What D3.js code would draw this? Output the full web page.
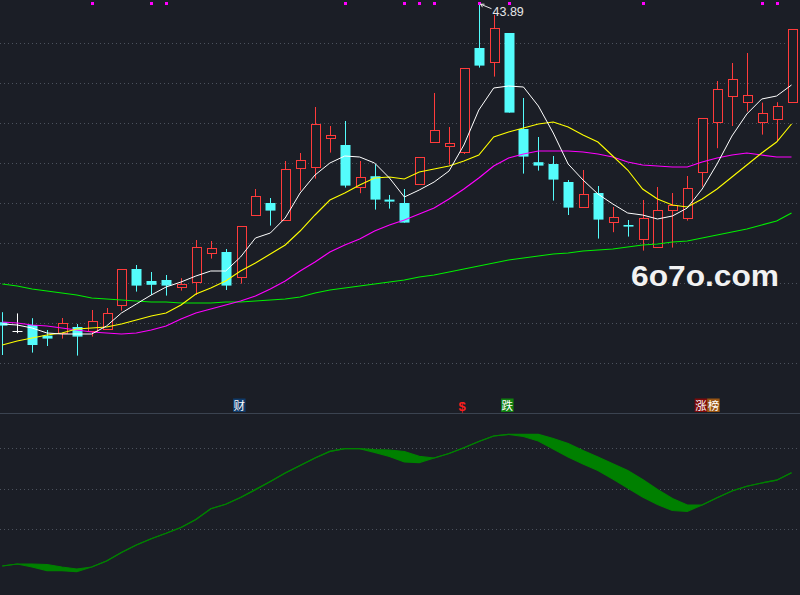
<!DOCTYPE html>
<html><head><meta charset="utf-8">
<script src="https://cdn.jsdelivr.net/npm/d3@7"></script>
<style>html,body{margin:0;padding:0;background:#1b1e26;overflow:hidden}svg{display:block}</style>
</head><body><svg id="c" width="800" height="595"></svg>
<script>
// ---- data ----
const opens  = [27.94,27.50,27.80,27.27,27.42,27.70,27.49,27.59,28.78,30.60,30.00,30.05,29.69,29.94,31.39,31.45,30.22,33.32,33.90,33.04,35.63,35.69,37.14,36.80,34.69,35.24,34.07,33.90,34.84,36.94,36.74,36.44,41.65,40.94,42.40,37.60,35.94,35.85,34.95,33.68,34.40,32.94,32.80,32.12,31.72,33.54,33.14,35.44,37.94,39.24,38.94,37.94,38.09,38.94];
const highs  = [28.44,28.38,28.14,27.55,28.15,27.85,28.55,28.65,30.58,30.80,30.45,30.30,30.14,32.05,32.00,31.60,32.74,34.60,34.15,36.00,36.40,38.70,37.75,38.00,36.00,35.84,34.30,34.60,36.19,39.40,37.70,40.64,43.89,43.30,42.40,39.15,37.20,36.25,35.05,35.55,34.75,33.70,33.05,34.05,34.70,34.40,35.25,38.14,40.00,40.90,41.40,38.92,38.94,42.58];
const lows   = [26.30,27.39,26.42,26.75,27.12,26.27,27.22,27.59,28.52,29.47,29.30,29.27,29.52,29.30,31.12,29.55,29.87,33.25,32.77,33.04,34.52,35.12,36.42,34.67,34.39,33.57,33.62,32.92,34.84,36.94,35.82,36.35,40.67,40.22,38.42,35.37,35.52,34.02,33.30,33.68,32.12,32.44,32.22,31.52,31.72,31.67,33.02,34.72,36.64,37.75,38.47,37.32,36.99,38.94];
const closes = [27.77,27.50,26.80,27.12,27.88,27.22,27.99,28.39,30.58,29.77,29.81,29.77,29.84,31.69,31.64,29.77,32.74,34.24,33.52,35.58,36.03,37.84,37.30,34.77,35.19,34.07,33.97,32.92,36.19,37.54,36.89,40.64,40.77,42.64,38.42,36.22,35.77,35.07,33.67,34.34,33.07,33.19,32.72,33.14,33.54,33.82,34.64,38.14,39.59,40.09,39.29,38.39,38.74,42.58];

const ma5  = [27.85,27.80,27.65,27.40,27.35,27.35,27.35,27.75,28.40,28.85,29.30,29.70,29.95,30.25,30.50,30.50,31.20,32.15,32.40,33.15,34.40,35.30,35.90,36.25,36.20,35.90,35.15,34.20,34.55,34.95,35.50,36.80,38.55,39.65,39.75,39.70,38.75,37.40,35.85,35.05,34.35,33.85,33.40,33.30,33.10,33.25,33.65,34.60,35.85,37.25,38.35,39.10,39.25,39.80];
const ma10 = [26.80,27.00,27.15,27.30,27.40,27.60,27.65,27.70,27.85,28.05,28.25,28.40,28.80,29.35,29.65,30.00,30.50,30.90,31.35,31.80,32.50,33.30,34.05,34.40,34.80,35.15,35.20,35.10,35.45,35.60,35.75,36.00,36.30,37.20,37.45,37.65,37.85,37.95,37.70,37.30,36.95,36.25,35.55,34.60,34.10,33.80,33.70,34.10,34.60,35.20,35.80,36.40,36.95,37.85];
const ma20 = [27.95,27.90,27.80,27.75,27.65,27.55,27.45,27.40,27.35,27.40,27.55,27.75,28.10,28.40,28.60,28.80,29.00,29.25,29.60,30.00,30.50,30.95,31.45,31.80,32.10,32.50,32.80,33.05,33.35,33.65,34.10,34.60,35.15,35.75,36.15,36.35,36.50,36.50,36.50,36.45,36.35,36.20,35.95,35.80,35.75,35.70,35.70,35.95,36.15,36.30,36.40,36.30,36.20,36.20];
const ma60 = [29.85,29.75,29.60,29.50,29.40,29.30,29.15,29.10,29.05,29.00,28.95,28.95,28.90,28.90,28.90,28.95,28.95,29.00,29.05,29.10,29.20,29.40,29.55,29.65,29.75,29.85,29.95,30.05,30.20,30.30,30.45,30.60,30.75,30.90,31.05,31.15,31.25,31.35,31.40,31.50,31.55,31.60,31.70,31.80,31.85,31.95,32.00,32.15,32.30,32.45,32.60,32.80,33.00,33.40];

const indSlow = [1.88,2.86,2.86,2.62,1.38,0.40,1.38,4.35,8.54,12.25,15.36,18.02,20.89,24.84,30.17,32.35,35.70,39.60,43.65,47.80,51.51,55.21,58.47,59.85,59.80,59.31,59.16,58.42,56.00,55.21,57.43,60.25,63.36,66.07,66.91,66.91,66.91,64.84,62.37,58.91,55.70,52.35,49.04,44.59,39.65,35.21,32.00,32.00,35.60,38.91,41.28,42.86,44.25,47.90];
const indFast = [1.88,2.86,1.38,-0.44,-0.44,-0.94,1.38,4.35,8.54,12.25,15.36,18.02,20.89,24.84,30.17,32.35,35.70,39.60,43.65,47.80,51.51,55.21,58.47,59.85,59.80,58.02,55.95,53.28,52.94,55.21,57.43,60.25,63.36,66.07,66.91,65.83,63.60,59.65,55.70,52.25,49.04,44.84,40.40,35.95,32.25,29.28,28.89,32.00,35.60,38.91,41.28,42.86,44.25,47.90];

const priceGrid = [41.9,39.9,37.9,35.9,33.9,31.9,29.9,27.9,25.9];
const indGrid = [60,40,20];
const markerIdx = [6,10,11,23,27,28,29,32,34,43,51,52];
const eventIdx = [16,31,34,47];
const eventText = ['财','$','跌','涨榜'];
const watermark = '6o7o.com';

// ---- styles ----
const BG = '#1b1e26', RED = '#ff3b3b', CYAN = '#54fcfc';
const charBg = {'财':'#0f3b6b','跌':'#10800f','涨':'#7e0a0a','榜':'#9a5512'};

const svg = d3.select('#c');
svg.append('rect').attr('width',800).attr('height',595).attr('fill',BG);

const n = closes.length;
const x = d3.scaleLinear().domain([0, n-1]).range([2.3, 791.5]);
const yP = d3.scaleLinear().domain([25.9, 41.9]).range([363, 43]);
const yI = d3.scaleLinear().domain([20, 60]).range([529.3, 448.3]);

// grid
const grid = svg.append('g').attr('stroke','#4c525d').attr('stroke-dasharray','1,3');
priceGrid.forEach(v => { const yy = Math.round(yP(v)) + 0.5;
  grid.append('line').attr('x1',0).attr('x2',800).attr('y1',yy).attr('y2',yy); });
indGrid.forEach(v => { const yy = Math.round(yI(v)) + 0.5;
  grid.append('line').attr('x1',0).attr('x2',800).attr('y1',yy).attr('y2',yy); });

// separator
svg.append('line').attr('x1',0).attr('x2',800).attr('y1',413.5).attr('y2',413.5)
  .attr('stroke','#3b4350').attr('stroke-width',1);

// watermark
svg.append('text').attr('x',631).attr('y',286).text(watermark)
  .attr('font-family','Liberation Sans, Arial, sans-serif').attr('font-weight','bold')
  .attr('font-size',30).attr('fill','#f2f2f2')
  .attr('textLength',148).attr('lengthAdjust','spacingAndGlyphs');

// candles
const cg = svg.append('g');
for (let i = 0; i < n; i++) {
  const o = opens[i], c = closes[i], h = highs[i], l = lows[i];
  const col = c > o ? RED : (c < o ? CYAN : '#ffffff');
  const cx = Math.round(x(i));
  cg.append('line').attr('x1',cx+0.5).attr('x2',cx+0.5)
    .attr('y1',yP(h)).attr('y2',yP(l)).attr('stroke',col).attr('stroke-width',1);
  if (c > o) {
    const top = Math.round(yP(c)), bot = Math.round(yP(o));
    cg.append('rect').attr('x',cx-3.5).attr('y',top+0.5).attr('width',9)
      .attr('height',Math.max(1,bot-top)).attr('fill',BG).attr('stroke',col).attr('stroke-width',1);
  } else if (c < o) {
    const top = yP(o), bot = yP(c);
    cg.append('rect').attr('x',cx-4.5).attr('y',top).attr('width',10)
      .attr('height',Math.max(1.5,bot-top)).attr('fill',col);
  } else {
    const yy = Math.round(yP(o)) + 0.5;
    cg.append('line').attr('x1',cx-4.5).attr('x2',cx+5.5).attr('y1',yy).attr('y2',yy)
      .attr('stroke',col).attr('stroke-width',1);
  }
}

// moving averages
const line = d3.line().x((d,i) => x(i)).y(d => yP(d));
[[ma60,'#00ee00',1.2],[ma20,'#ff00ff',1.2],[ma10,'#ffff00',1.1],[ma5,'#ffffff',1]].forEach(([s,col,w]) => {
  svg.append('path').attr('d',line(s)).attr('fill','none').attr('stroke',col).attr('stroke-width',w);
});

// top markers
svg.append('g').selectAll('rect').data(markerIdx).join('rect')
  .attr('x',d => Math.round(x(d)) - 1).attr('y',2).attr('width',3).attr('height',3).attr('fill','#ff00ff');

// high label
const hiIdx = d3.maxIndex(highs);
const hx = Math.round(x(hiIdx)) + 0.5, hy = yP(highs[hiIdx]);
svg.append('path').attr('d',`M${hx+12},${hy+5.5}L${hx+1},${hy+1}M${hx+1},${hy+1}L${hx+5},${hy+1}M${hx+1},${hy+1}L${hx+3},${hy+4}`)
  .attr('stroke','#e6e6e6').attr('fill','none').attr('stroke-width',1);
svg.append('text').attr('x',hx+13).attr('y',hy+12.5).text(highs[hiIdx].toFixed(2))
  .attr('font-family','Liberation Sans, Arial, sans-serif').attr('font-size',12.5).attr('fill','#e6e6e6');

// event labels
eventIdx.forEach((idx, k) => {
  const txt = eventText[k];
  const ex = x(idx);
  if (txt === '$') {
    svg.append('text').attr('x',ex-1.7).attr('y',411).attr('text-anchor','middle').text(txt)
      .attr('font-family','Liberation Sans, Arial, sans-serif').attr('font-weight','bold')
      .attr('font-size',13).attr('fill','#ff1e1e');
    return;
  }
  Array.from(txt).forEach((ch, j) => {
    const bx = ex - 7.5 + j*12.5;
    svg.append('rect').attr('x',bx).attr('y',398.5).attr('width',12.5).attr('height',13.5).attr('fill',charBg[ch] || '#444');
    svg.append('text').attr('x',bx+6.25).attr('y',409.5).attr('text-anchor','middle').text(ch)
      .attr('font-family','Noto Sans CJK SC, sans-serif').attr('font-size',11.5).attr('fill','#ffffff');
  });
});

// lower indicator
const idx = d3.range(n);
const area = d3.area().x(i => x(i)).y0(i => yI(indSlow[i])).y1(i => yI(indFast[i]));
svg.append('path').attr('d',area(idx)).attr('fill','#008000');
const il = d3.line().x(i => x(i));
svg.append('path').attr('d',il.y(i => yI(indSlow[i]))(idx)).attr('fill','none').attr('stroke','#008000').attr('stroke-width',1.2);
svg.append('path').attr('d',d3.line().x(i => x(i)).y(i => yI(indFast[i]))(idx)).attr('fill','none').attr('stroke','#008000').attr('stroke-width',1.2);
</script>
</body></html>
